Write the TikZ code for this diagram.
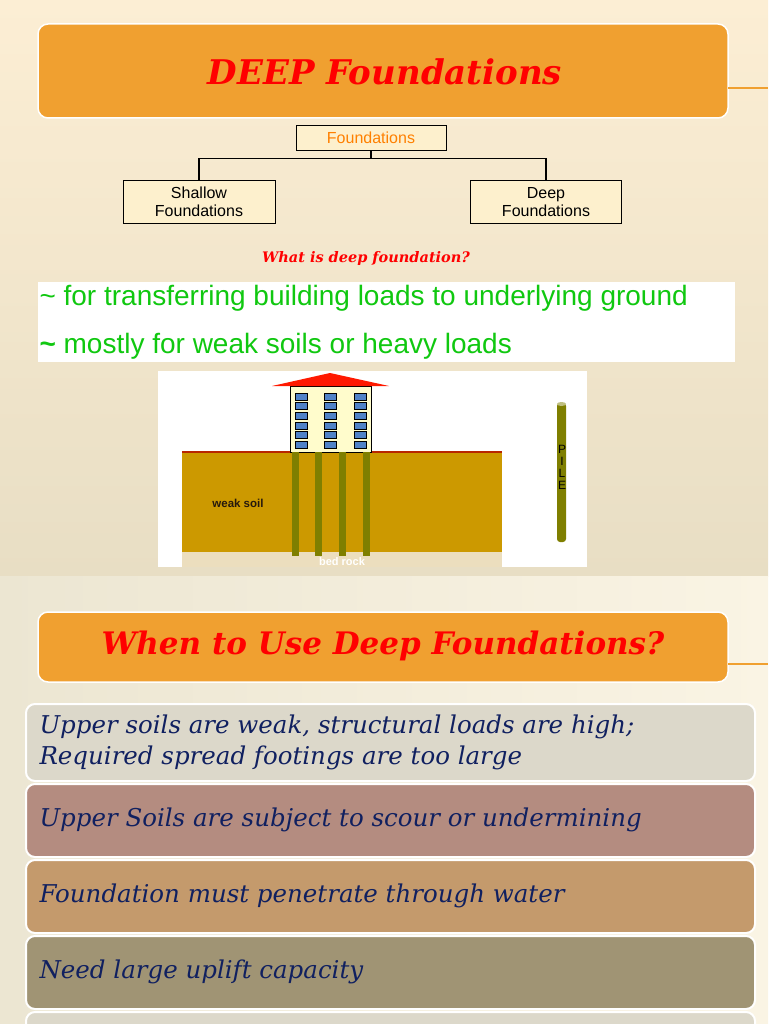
\documentclass[tikz,border=0pt]{standalone}
\usepackage{fontspec}
\setmainfont{DejaVu Serif}
\setsansfont{Liberation Sans}
\definecolor{ttl}{HTML}{F0A030}
\definecolor{navy}{HTML}{102060}
\definecolor{olv}{HTML}{7F7F00}
\definecolor{grn}{HTML}{10C810}
\definecolor{soil}{HTML}{CC9900}
\definecolor{boxf}{RGB}{253,240,205}
\definecolor{bgA}{RGB}{252,238,212}
\definecolor{bgB}{RGB}{232,222,196}
\definecolor{bgC}{RGB}{236,230,210}
\definecolor{bgD}{RGB}{250,244,228}
\definecolor{rock}{RGB}{236,222,190}
\definecolor{win}{RGB}{80,130,200}
\definecolor{rA}{RGB}{220,216,202}
\definecolor{rB}{RGB}{180,140,128}
\definecolor{rC}{RGB}{196,154,108}
\definecolor{rD}{RGB}{160,148,116}
\begin{document}
\begin{tikzpicture}[x=1pt,y=-1pt,
  title/.style={draw=white,line width=1.5pt,rounded corners=10pt,fill=ttl},
  ttltext/.style={text=red,font=\bfseries\itshape\fontsize{34}{40}\selectfont},
  small/.style={draw=black,line width=0.5pt,fill=boxf,font=\sffamily\fontsize{16}{18}\selectfont,align=center},
  rowtext/.style={text=navy,font=\itshape\fontsize{24.5}{31}\selectfont,anchor=west},
  pilestyle/.style={fill=olv,draw=none}]
\useasboundingbox (0,0) rectangle (768,1024);
% backgrounds
\shade[top color=bgA,bottom color=bgB] (0,0) rectangle (768,576);
\shade[left color=bgC,right color=bgD] (0,576) rectangle (768,1024);
% top title
\draw[title] (38,24) rectangle (728,118);
\node[ttltext] (t1) at (385,72) {DEEP Foundations};
\draw[ttl,line width=1.5pt] (728,88) -- (768,88);
% tree
\node[small,minimum width=150pt,minimum height=25pt,text=orange,inner sep=0pt] (f) at (371,137.5) {Foundations};
\node[small,minimum width=152pt,minimum height=43pt,inner sep=0pt] (s) at (199,202) {Shallow\\Foundations};
\node[small,minimum width=151pt,minimum height=43pt,inner sep=0pt] (d) at (546,202) {Deep\\Foundations};
\draw[line width=1.2pt] (f.south) -- ++(0,8) coordinate (m);
\draw[line width=1.2pt] (s.north) |- (m) -| (d.north);
\node[text=red,font=\bfseries\itshape\fontsize{14.5}{16}\selectfont] (q) at (366,258) {What is deep foundation?};
% green box
\fill[white] (38,282) rectangle (735,362);
\node[anchor=west,text=grn,font=\sffamily\fontsize{28}{28}\selectfont] (g1) at (36,298) {\textasciitilde\ for transferring building loads to underlying ground};
\node[anchor=west,text=grn,font=\sffamily\fontsize{28}{28}\selectfont] (g2) at (36,346) {\textbf{\textasciitilde}\ mostly for weak soils or heavy loads};
% picture
\fill[white] (158,371) rectangle (587,567);
\fill[rock] (182,552) rectangle (502,567);
\fill[soil] (182,452) rectangle (502,552);
\draw[black!40!red!70!orange,line width=1.2pt] (182,452) -- (502,452);
\node[text=white,font=\sffamily\bfseries\fontsize{11}{11}\selectfont] (br) at (342,562) {bed rock};
\node[text=black!80!brown,font=\sffamily\bfseries\fontsize{11.5}{11}\selectfont] (ws) at (238,503) {weak soil};
\draw[fill=yellow!20!white,line width=0.6pt] (290,386) rectangle (371,452);
\fill[red!80!orange] (272,386) -- (330,373) -- (389,386) -- cycle;
\foreach \x in {295,324,354}{\foreach \k in {0,...,5}{
  \draw[fill=win,line width=0.4pt] (\x,{393+\k*9.6}) rectangle ++(12,7);}}
\foreach \x in {292,315,339,363}{\fill[pilestyle] (\x,452) rectangle ++(7,104);}
\fill[pilestyle,rounded corners=3pt] (557,403) rectangle (566,542);
\fill[olv!50!white] (561.5,404) ellipse (4.5 and 2);
\node[font=\sffamily\fontsize{12}{12}\selectfont,align=center,inner sep=0pt] (pl) at (562,467) {P\\I\\L\\E};
% bottom slide
\draw[title] (38,612) rectangle (728,682);
\node[ttltext,font=\bfseries\itshape\fontsize{31}{38}\selectfont] (t2) at (383,646) {When to Use Deep Foundations?};
\draw[ttl,line width=1.5pt] (728,664) -- (768,664);
\fill[rA,rounded corners=9pt] (26,704) rectangle (755,781);
\fill[rB,rounded corners=9pt] (26,784) rectangle (755,857);
\fill[rC,rounded corners=9pt] (26,860) rectangle (755,933);
\fill[rD,rounded corners=9pt] (26,936) rectangle (755,1009);
\fill[rA,rounded corners=9pt] (26,1012) rectangle (755,1040);
\draw[white,line width=2pt,rounded corners=9pt] (26,704) rectangle (755,781) (26,784) rectangle (755,857) (26,860) rectangle (755,933) (26,936) rectangle (755,1009) (26,1012) rectangle (755,1040);
\node[rowtext,align=left] (r1) at (36,742) {Upper soils are weak, structural loads are high;\\Required spread footings are too large};
\node[rowtext] (r2) at (36,820) {Upper Soils are subject to scour or undermining};
\node[rowtext] (r3) at (36,896) {Foundation must penetrate through water};
\node[rowtext] (r4) at (36,972) {Need large uplift capacity};
\end{tikzpicture}
\end{document}
